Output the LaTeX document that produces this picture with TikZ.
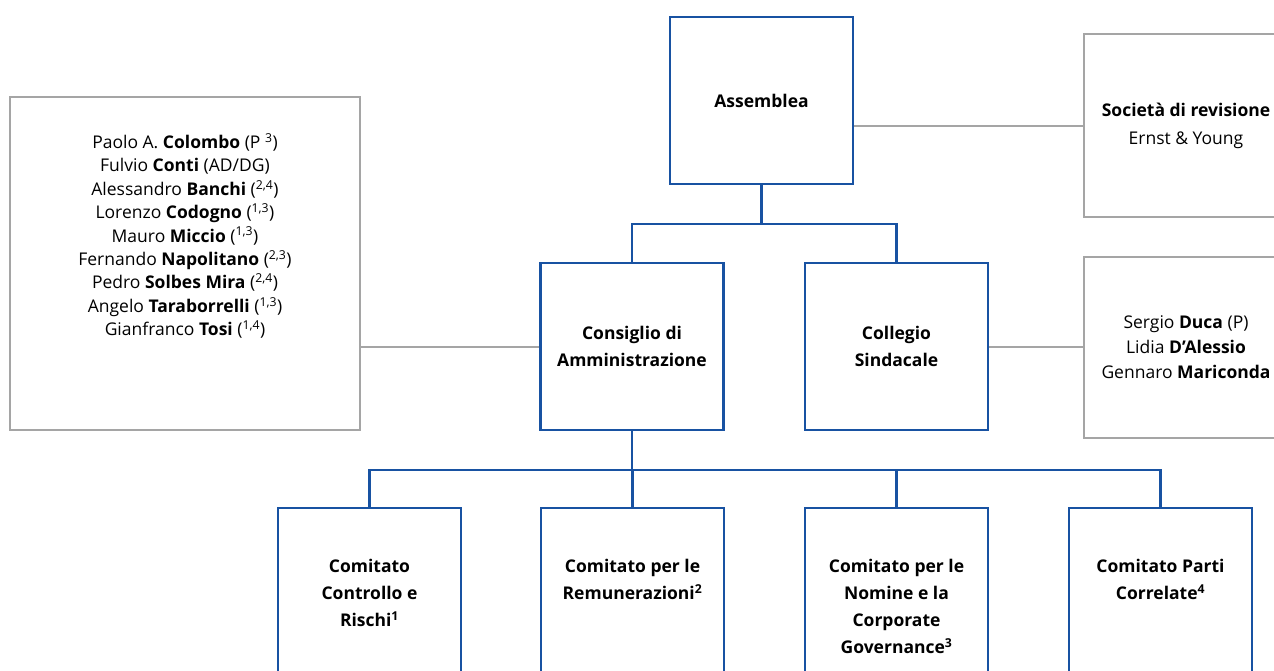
\documentclass[tikz,border=0pt]{standalone}
\usepackage{fontspec}
\setmainfont{Open Sans}
\usetikzlibrary{calc}
\definecolor{orgblue}{RGB}{24,82,162}
\definecolor{orggray}{RGB}{165,165,165}
\begin{document}
\begin{tikzpicture}[x=1pt,y=-1pt,
  bluebox/.style={draw=orgblue,line width=2.3pt,fill=white,inner sep=0pt,align=center,
    font=\fontsize{17.5}{27}\selectfont\bfseries},
  graybox/.style={draw=orggray,line width=2pt,fill=white,inner sep=0pt,align=center},
  blueline/.style={draw=orgblue,line width=2.3pt},
  grayline/.style={draw=orggray,line width=2pt},
  boxtext/.style={inner sep=0pt,align=center,font=\fontsize{17.5}{27}\selectfont\bfseries}]
\useasboundingbox (0,0) rectangle (1274,670);
\node[bluebox,minimum width=183pt,minimum height=167pt] (asm) at (761.5,100.5) {Assemblea};
\node[bluebox,minimum width=183pt,minimum height=167pt] (cda) at (632,346.5) {Consiglio di\\Amministrazione};
\node[bluebox,minimum width=183pt,minimum height=167pt] (col) at (896.5,346.5) {Collegio\\Sindacale};
\node[graybox,minimum width=350pt,minimum height=333pt] (cdabox) at (185,263.5) {};
\node[inner sep=0pt,align=center,font=\fontsize{17.5}{23.4}\selectfont] (cdanames) at (185,236) {%
Paolo A. \textbf{Colombo} (P \textsuperscript{3})\\
Fulvio \textbf{Conti} (AD/DG)\\
Alessandro \textbf{Banchi} (\textsuperscript{2,4})\\
Lorenzo \textbf{Codogno} (\textsuperscript{1,3})\\
Mauro \textbf{Miccio} (\textsuperscript{1,3})\\
Fernando \textbf{Napolitano} (\textsuperscript{2,3})\\
Pedro \textbf{Solbes Mira} (\textsuperscript{2,4})\\
Angelo \textbf{Taraborrelli} (\textsuperscript{1,3})\\
Gianfranco \textbf{Tosi} (\textsuperscript{1,4})};
\node[graybox,minimum width=204pt,minimum height=183pt,font=\fontsize{17.5}{28}\selectfont] (rev) at (1186,125.5) {\textbf{Società di revisione}\\Ernst \& Young};
\node[graybox,minimum width=204pt,minimum height=181pt,font=\fontsize{17.5}{25}\selectfont] (sin) at (1186,347.5) {Sergio \textbf{Duca} (P)\\Lidia \textbf{D’Alessio}\\Gennaro \textbf{Mariconda}};
% committees
\node[bluebox,minimum width=183pt,minimum height=200pt] (c1) at (369.5,608) {};
\node[bluebox,minimum width=183pt,minimum height=200pt] (c2) at (632.5,608) {};
\node[bluebox,minimum width=183pt,minimum height=200pt] (c3) at (896.5,608) {};
\node[bluebox,minimum width=183pt,minimum height=200pt] (c4) at (1160.5,608) {};
\node[boxtext,anchor=north] (t1) at (369.5,559) {Comitato\\Controllo e\\Rischi\textsuperscript{1}};
\node[boxtext,anchor=north] (t2) at (632.5,559) {Comitato per le\\Remunerazioni\textsuperscript{2}};
\node[boxtext,anchor=north] (t3) at (896.5,559) {Comitato per le\\Nomine e la\\Corporate\\Governance\textsuperscript{3}};
\node[boxtext,anchor=north] (t4) at (1160.5,559) {Comitato Parti\\Correlate\textsuperscript{4}};
% connectors
\draw[blueline] (asm.south) -- ++(0,39) coordinate (j1);
\draw[blueline] (cda.north) |- (j1) -| (col.north);
\draw[blueline] (cda.south) -- ++(0,39) coordinate (j2);
\draw[blueline] (c1.north) |- (j2) -| (c4.north);
\draw[blueline] (c2.north) -- (c2.north |- j2);
\draw[blueline] (c3.north) -- (c3.north |- j2);
\draw[grayline] (rev.west) -- (rev.west -| asm.east);
\draw[grayline] (cda.west) -- (cda.west -| cdabox.east);
\draw[grayline] (col.east) -- (col.east -| sin.west);
\end{tikzpicture}
\end{document}
